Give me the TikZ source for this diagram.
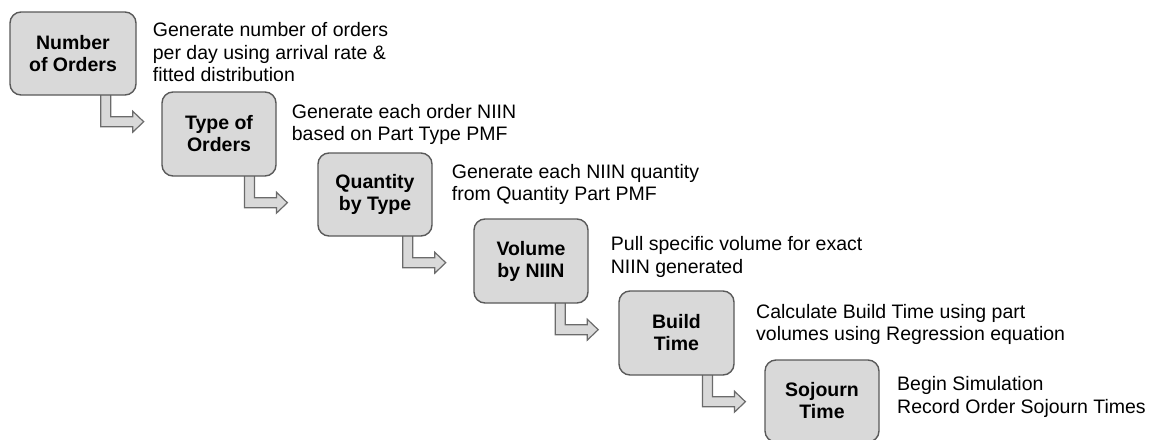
\documentclass[tikz,border=0pt]{standalone}
\usepackage{fontspec}
\setmainfont{Liberation Sans}
\usetikzlibrary{calc, backgrounds}

\definecolor{boxgray}{HTML}{D9D9D9}
\definecolor{edgegray}{HTML}{595959}
\definecolor{arrowedge}{HTML}{6B6B6B}

\tikzset{
  stepbox/.style={draw=edgegray, line width=1.4pt, fill=boxgray, rounded corners=11pt,
    minimum width=114pt, minimum height=83pt, inner sep=0pt, align=center,
    font=\bfseries\fontsize{19.5}{22}\selectfont},
  note/.style={anchor=base west, inner sep=0pt, align=left,
    font=\fontsize{19.5}{22.6}\selectfont},
  flowarrow/.style={draw=arrowedge, line width=1.2pt, fill=boxgray, line join=miter}
}

% hollow elbow arrow leaving the bottom of box #1, shaft #2 in from its right edge
\newcommand{\steparrow}[2]{%
  \draw[flowarrow] ($(#1.south east)+(-#2-5,-2)$) -- ++(0,33) -- ++(32,0) -- ++(0,5.5)
    -- ++(11,-10.5) -- ++(-11,-10.5) -- ++(0,5.5) -- ++(-22,0) -- ++(0,-23) -- cycle;}

\begin{document}
\begin{tikzpicture}[x=1pt, y=-1pt]
    \useasboundingbox (0,0) rectangle (1153,439);

    % the six steps
    \node[stepbox, minimum width=126pt] (num) at (73,53.5) {Number\\of Orders};
    \node[stepbox, minimum height=84pt] (type) at (219,134) {Type of\\Orders};
    \node[stepbox] (qty) at (375,194.5) {Quantity\\by Type};
    \node[stepbox, minimum height=84pt] (vol) at (531,261) {Volume\\by NIIN};
    \node[stepbox, minimum width=115pt, minimum height=84pt] (build) at (676.5,333) {Build\\Time};
    \node[stepbox, minimum height=82pt] (sojourn) at (822,401) {Sojourn\\Time};

    % descriptions (base = baseline of the last line)
    \node[note] (numtxt) at (152.7,81.9) {Generate number of orders\\per day using arrival rate \&\\fitted distribution};
    \node[note] (typetxt) at (291.7,140.9) {Generate each order NIIN\\based on Part Type PMF};
    \node[note] (qtytxt) at (451.7,200.9) {Generate each NIIN quantity\\from Quantity Part PMF};
    \node[note] (voltxt) at (610.7,273.3) {Pull specific volume for exact\\NIIN generated};
    \node[note] (buildtxt) at (756,340.9) {Calculate Build Time using part\\volumes using Regression equation};
    \node[note] (sojourntxt) at (897,413.3) {Begin Simulation\\Record Order Sojourn Times};

    \begin{scope}[on background layer]
        \steparrow{num}{31}
        \steparrow{type}{27.3}
        \steparrow{qty}{25}
        \steparrow{vol}{28.5}
        \steparrow{build}{27.3}
    \end{scope}
\end{tikzpicture}
\end{document}
